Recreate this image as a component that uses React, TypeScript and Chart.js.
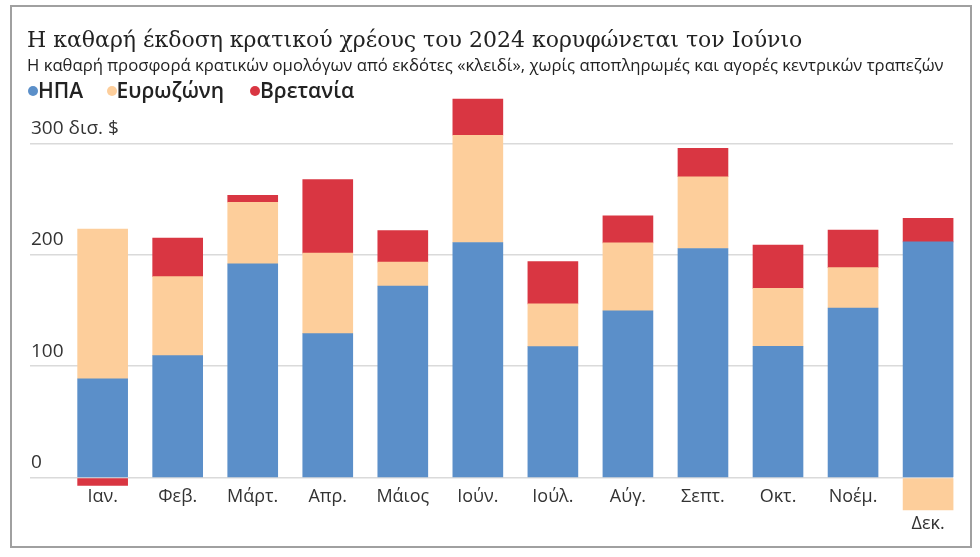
import React, { useEffect, useRef } from "react";
import { Chart, registerables } from "chart.js";

Chart.register(...registerables);

const months = ["Ιαν.", "Φεβ.", "Μάρτ.", "Απρ.", "Μάιος", "Ιούν.", "Ιούλ.", "Αύγ.", "Σεπτ.", "Οκτ.", "Νοέμ.", "Δεκ."];
const usa = [88.7, 109.5, 191.8, 129.3, 172, 211, 117.6, 149.7, 205.6, 117.9, 152.1, 211.6];
const eurozone = [134.4, 70.9, 55.3, 72.1, 21.4, 96.2, 38.4, 61, 64.4, 52, 36.3, -28.9];
const uk = [-6.9, 34.6, 6.3, 66.1, 28.2, 32.5, 37.9, 24.1, 25.5, 38.8, 33.7, 21];
const seriesNames = ["ΗΠΑ", "Ευρωζώνη", "Βρετανία"];
const seriesColors = ["#5B8FC9", "#FDCE9B", "#D93642"];
const yTickValues = [0, 100, 200, 300];
const yTickLabels = ["0", "100", "200", "300 δισ. $"];

const titleText = "Η καθαρή έκδοση κρατικού χρέους του 2024 κορυφώνεται τον Ιούνιο";
const subtitleText = "Η καθαρή προσφορά κρατικών ομολόγων από εκδότες «κλειδί», χωρίς αποπληρωμές και αγορές κεντρικών τραπεζών";

const SANS = "'Open Sans', 'Noto Sans', sans-serif";
const legendDotX = [33, 111.5, 255];

export default function App() {
  const ref = useRef<HTMLCanvasElement>(null);

  useEffect(() => {
    const canvas = ref.current;
    if (!canvas) return;
    const series = [usa, eurozone, uk];
    const chart = new Chart(canvas, {
      type: "bar",
      data: {
        datasets: seriesNames.map((name, s) => ({
          label: name,
          data: series[s].map((v, i) => ({ x: i, y: v })),
          backgroundColor: seriesColors[s],
          borderWidth: 0,
          barThickness: 50,
          clip: false as any,
          stack: "a",
        })),
      },
      options: {
        animation: false,
        responsive: false,
        maintainAspectRatio: false,
        layout: { padding: { left: 28, right: 27, top: 93.1, bottom: 22.2 } },
        plugins: {
          legend: { display: false },
          tooltip: { enabled: false },
        },
        scales: {
          x: {
            type: "linear",
            min: -0.968,
            max: 11.332,
            offset: false,
            stacked: true,
            grid: { display: false, drawTicks: false, offset: false },
            border: { display: false },
            afterBuildTicks: (axis: any) => {
              axis.ticks = months.map((_, i) => ({ value: i }));
            },
            ticks: {
              autoSkip: false,
              maxRotation: 0,
              minRotation: 0,
              padding: -2,
              color: "#333333",
              font: { family: SANS, size: 18, lineHeight: 1.48 },
              callback: (v: any) => {
                const i = Math.round(Number(v));
                const neg = series.reduce((s, arr) => s + Math.min(0, arr[i]), 0);
                return neg < -10 ? ["", months[i]] : months[i];
              },
            },
          },
          y: {
            min: -7,
            max: 345,
            stacked: true,
            afterBuildTicks: (axis: any) => {
              axis.ticks = yTickValues.map((v) => ({ value: v }));
            },
            grid: { color: "#dadada", lineWidth: 1.5, drawTicks: false },
            border: { display: false },
            ticks: {
              mirror: true,
              padding: 1,
              labelOffset: -15,
              color: "#333333",
              font: { family: SANS, size: 19 },
              callback: (v: any) => yTickLabels[yTickValues.indexOf(Number(v))],
            },
          },
        },
      },
    });
    return () => chart.destroy();
  }, []);

  return (
    <div style={{ position: "absolute", left: 0, top: 0, width: 980, height: 557, background: "#fff", overflow: "hidden" }}>
      <div
        style={{
          position: "absolute",
          left: 10,
          top: 5,
          width: 962,
          height: 543,
          boxSizing: "border-box",
          border: "2px solid #a0a0a0",
        }}
      />
      <canvas ref={ref} width={980} height={557} style={{ position: "absolute", left: 0, top: 0, width: 980, height: 557 }} />
      <div
        style={{
          position: "absolute",
          left: 27,
          top: 29,
          fontFamily: "'DejaVu Serif', serif",
          fontSize: 22,
          lineHeight: "22px",
          color: "#222",
          whiteSpace: "nowrap",
        }}
      >
        {titleText}
      </div>
      <div
        style={{
          position: "absolute",
          left: 27,
          top: 57,
          fontFamily: SANS,
          fontSize: 16.7,
          lineHeight: "16.7px",
          color: "#222",
          whiteSpace: "nowrap",
        }}
      >
        {subtitleText}
      </div>
      {seriesNames.map((n, i) => (
        <React.Fragment key={n}>
          <span
            style={{
              position: "absolute",
              left: legendDotX[i] - 5,
              top: 86,
              width: 10,
              height: 10,
              borderRadius: 5,
              background: seriesColors[i],
            }}
          />
          <span
            style={{
              position: "absolute",
              left: legendDotX[i] + 5,
              top: 80,
              fontFamily: SANS,
              fontSize: 21,
              lineHeight: "21px",
              fontWeight: 600,
              color: "#222",
              whiteSpace: "nowrap",
            }}
          >
            {n}
          </span>
        </React.Fragment>
      ))}
    </div>
  );
}
